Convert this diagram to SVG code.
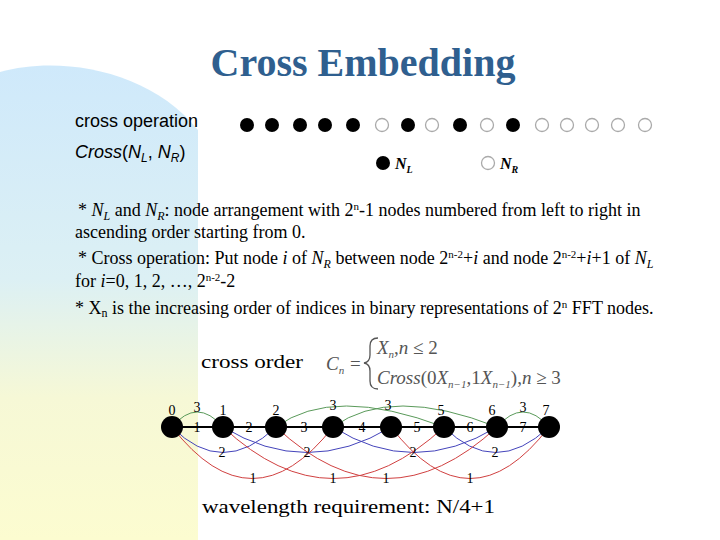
<svg xmlns="http://www.w3.org/2000/svg" width="720" height="540" viewBox="0 0 720 540">
<defs>
<linearGradient id="bg" x1="0" y1="0" x2="0" y2="1">
<stop offset="0" stop-color="#cfe9fb"/>
<stop offset="0.45" stop-color="#dcf0f4"/>
<stop offset="0.7" stop-color="#f6f8d6"/>
<stop offset="1" stop-color="#fcfcd0"/>
</linearGradient>
<style>
.t{font-family:"Liberation Serif",serif;font-size:18px;fill:#000}
.s{font-family:"Liberation Sans",sans-serif;font-size:18px;fill:#000}
.f{fill:#000}
.h{fill:#fff;stroke:#aaa;stroke-width:1.3}
.n{fill:#000}
.bk{stroke:#000;stroke-width:2;fill:none}
.g{stroke:#5a9a5a;stroke-width:1;fill:none}
.b{stroke:#4444bb;stroke-width:1;fill:none}
.r{stroke:#d04040;stroke-width:1;fill:none}
.l{font-family:"Liberation Serif",serif;font-size:14px;fill:#000;text-anchor:middle}
</style>
</defs>
<rect width="720" height="540" fill="#fff"/>
<path d="M0,72 C60,55 150,70 198,130 L198,540 L0,540 Z" fill="url(#bg)"/>
<text x="363" y="76" text-anchor="middle" font-family="Liberation Serif,serif" font-size="40" font-weight="bold" fill="#2f5f8f">Cross Embedding</text>
<text x="75" y="127" class="s">cross operation</text>
<text x="75" y="158" class="s"><tspan font-style="italic">Cross</tspan>(<tspan font-style="italic">N</tspan><tspan font-style="italic" font-size="12" dy="4">L</tspan><tspan dy="-4">, </tspan><tspan font-style="italic">N</tspan><tspan font-style="italic" font-size="12" dy="4">R</tspan><tspan dy="-4">)</tspan></text>
<g id="seq">
<circle cx="247" cy="125" r="7" class="f"/><circle cx="272" cy="125" r="7" class="f"/><circle cx="300" cy="125" r="7" class="f"/><circle cx="325" cy="125" r="7" class="f"/><circle cx="353" cy="125" r="7" class="f"/>
<circle cx="382" cy="125" r="6.5" class="h"/><circle cx="408" cy="125" r="7" class="f"/><circle cx="432" cy="125" r="6.5" class="h"/><circle cx="460" cy="125" r="7" class="f"/><circle cx="487" cy="125" r="6.5" class="h"/><circle cx="513" cy="125" r="7" class="f"/>
<circle cx="542" cy="125" r="6.5" class="h"/><circle cx="567" cy="125" r="6.5" class="h"/><circle cx="592" cy="125" r="6.5" class="h"/><circle cx="618" cy="125" r="6.5" class="h"/><circle cx="645" cy="125" r="6.5" class="h"/>
</g>
<g id="legend">
<circle cx="383" cy="163" r="7" class="f"/>
<text x="395" y="169" font-family="Liberation Serif,serif" font-size="16" font-weight="bold" font-style="italic">N<tspan font-size="10" dy="4">L</tspan></text>
<circle cx="488" cy="163" r="6.5" class="h"/>
<text x="500" y="169" font-family="Liberation Serif,serif" font-size="16" font-weight="bold" font-style="italic">N<tspan font-size="10" dy="4">R</tspan></text>
</g>
<text x="78" y="216" class="t">* <tspan font-style="italic">N</tspan><tspan font-style="italic" font-size="12" dy="4">L</tspan><tspan dy="-4"> and </tspan><tspan font-style="italic">N</tspan><tspan font-style="italic" font-size="12" dy="4">R</tspan><tspan dy="-4">: node arrangement with 2</tspan><tspan font-size="11" dy="-6">n</tspan><tspan dy="6">-1 nodes numbered from left to right in</tspan></text>
<text x="75" y="238" class="t">ascending order starting from 0.</text>
<text x="78" y="264" class="t">* Cross operation: Put node <tspan font-style="italic">i</tspan> of <tspan font-style="italic">N</tspan><tspan font-style="italic" font-size="12" dy="4">R</tspan><tspan dy="-4"> between node 2</tspan><tspan font-size="11" dy="-6">n-2</tspan><tspan dy="6">+</tspan><tspan font-style="italic">i</tspan> and node 2<tspan font-size="11" dy="-6">n-2</tspan><tspan dy="6">+</tspan><tspan font-style="italic">i</tspan>+1 of <tspan font-style="italic">N</tspan><tspan font-style="italic" font-size="12" dy="4">L</tspan></text>
<text x="75" y="287" class="t">for <tspan font-style="italic">i</tspan>=0, 1, 2, …, 2<tspan font-size="11" dy="-6">n-2</tspan><tspan dy="6">-2</tspan></text>
<text x="75" y="314" class="t">* X<tspan font-size="12" dy="3">n</tspan><tspan dy="-3"> is the increasing order of indices in binary representations of 2</tspan><tspan font-size="11" dy="-6">n</tspan><tspan dy="6"> FFT nodes.</tspan></text>
<text x="201" y="368" class="t" font-size="22" textLength="102" lengthAdjust="spacingAndGlyphs">cross order</text>
<g id="formula" font-family="Liberation Serif,serif" fill="#555">
<text x="326" y="370" font-size="19" font-style="italic">C<tspan font-size="11" dy="4">n</tspan></text>
<text x="350" y="370" font-size="19">=</text>
<path d="M378,338 Q370,338 370,346 L370,355 Q370,362 364,363 Q370,364 370,371 L370,381 Q370,389 378,389" fill="none" stroke="#555" stroke-width="1.3"/>
<text x="377" y="354" font-size="19"><tspan font-style="italic">X</tspan><tspan font-size="11" font-style="italic" dy="4">n</tspan><tspan dy="-4">,</tspan><tspan font-style="italic">n</tspan> ≤ 2</text>
<text x="377" y="384" font-size="19"><tspan font-style="italic">Cross</tspan>(0<tspan font-style="italic">X</tspan><tspan font-size="11" font-style="italic" dy="4">n−1</tspan><tspan dy="-4">,1</tspan><tspan font-style="italic">X</tspan><tspan font-size="11" font-style="italic" dy="4">n−1</tspan><tspan dy="-4">),</tspan><tspan font-style="italic">n</tspan> ≥ 3</text>
</g>
<g id="connectors">
<line x1="172" y1="427" x2="549" y2="427" class="bk"/>
<path d="M172,427 Q197,397 223,427" class="g"/>
<path d="M276,427 Q333,385 444,427" class="g"/>
<path d="M333,427 Q391,385 497,427" class="g"/>
<path d="M497,427 Q523,397 549,427" class="g"/>
<path d="M172,427 Q222,478 276,427" class="b"/>
<path d="M223,427 Q307,478 391,427" class="b"/>
<path d="M333,427 Q413,478 497,427" class="b"/>
<path d="M444,427 Q495,478 549,427" class="b"/>
<path d="M172,427 Q252,530 333,427" class="r"/>
<path d="M223,427 Q333,530 444,427" class="r"/>
<path d="M276,427 Q386,530 497,427" class="r"/>
<path d="M391,427 Q470,530 549,427" class="r"/>
</g>
<g id="edge-labels">
<text x="197" y="412" class="l">3</text><text x="333" y="410" class="l">3</text><text x="388" y="410" class="l">3</text><text x="523" y="412" class="l">3</text>
<text x="197" y="432" class="l">1</text><text x="249" y="432" class="l">2</text><text x="304" y="432" class="l">3</text><text x="362" y="432" class="l">4</text><text x="417" y="432" class="l">5</text><text x="470" y="432" class="l">6</text><text x="523" y="432" class="l">7</text>
<text x="222" y="457" class="l">2</text><text x="307" y="457" class="l">2</text><text x="413" y="457" class="l">2</text><text x="495" y="457" class="l">2</text>
<text x="253" y="483" class="l">1</text><text x="333" y="483" class="l">1</text><text x="386" y="483" class="l">1</text><text x="470" y="483" class="l">1</text>
</g>
<g id="n0"><circle cx="172" cy="427" r="11" class="n"/><text x="172" y="415" class="l">0</text></g>
<g id="n1"><circle cx="223" cy="427" r="11" class="n"/><text x="223" y="415" class="l">1</text></g>
<g id="n2"><circle cx="276" cy="427" r="11" class="n"/><text x="276" y="415" class="l">2</text></g>
<g id="n3"><circle cx="333" cy="427" r="11" class="n"/></g>
<g id="n4"><circle cx="391" cy="427" r="11" class="n"/></g>
<g id="n5"><circle cx="444" cy="427" r="11" class="n"/><text x="441" y="415" class="l">5</text></g>
<g id="n6"><circle cx="497" cy="427" r="11" class="n"/><text x="492" y="415" class="l">6</text></g>
<g id="n7"><circle cx="549" cy="427" r="11" class="n"/><text x="546" y="415" class="l">7</text></g>
<text x="202" y="513" class="t" font-size="22" textLength="293" lengthAdjust="spacingAndGlyphs">wavelength requirement: N/4+1</text>
</svg>
